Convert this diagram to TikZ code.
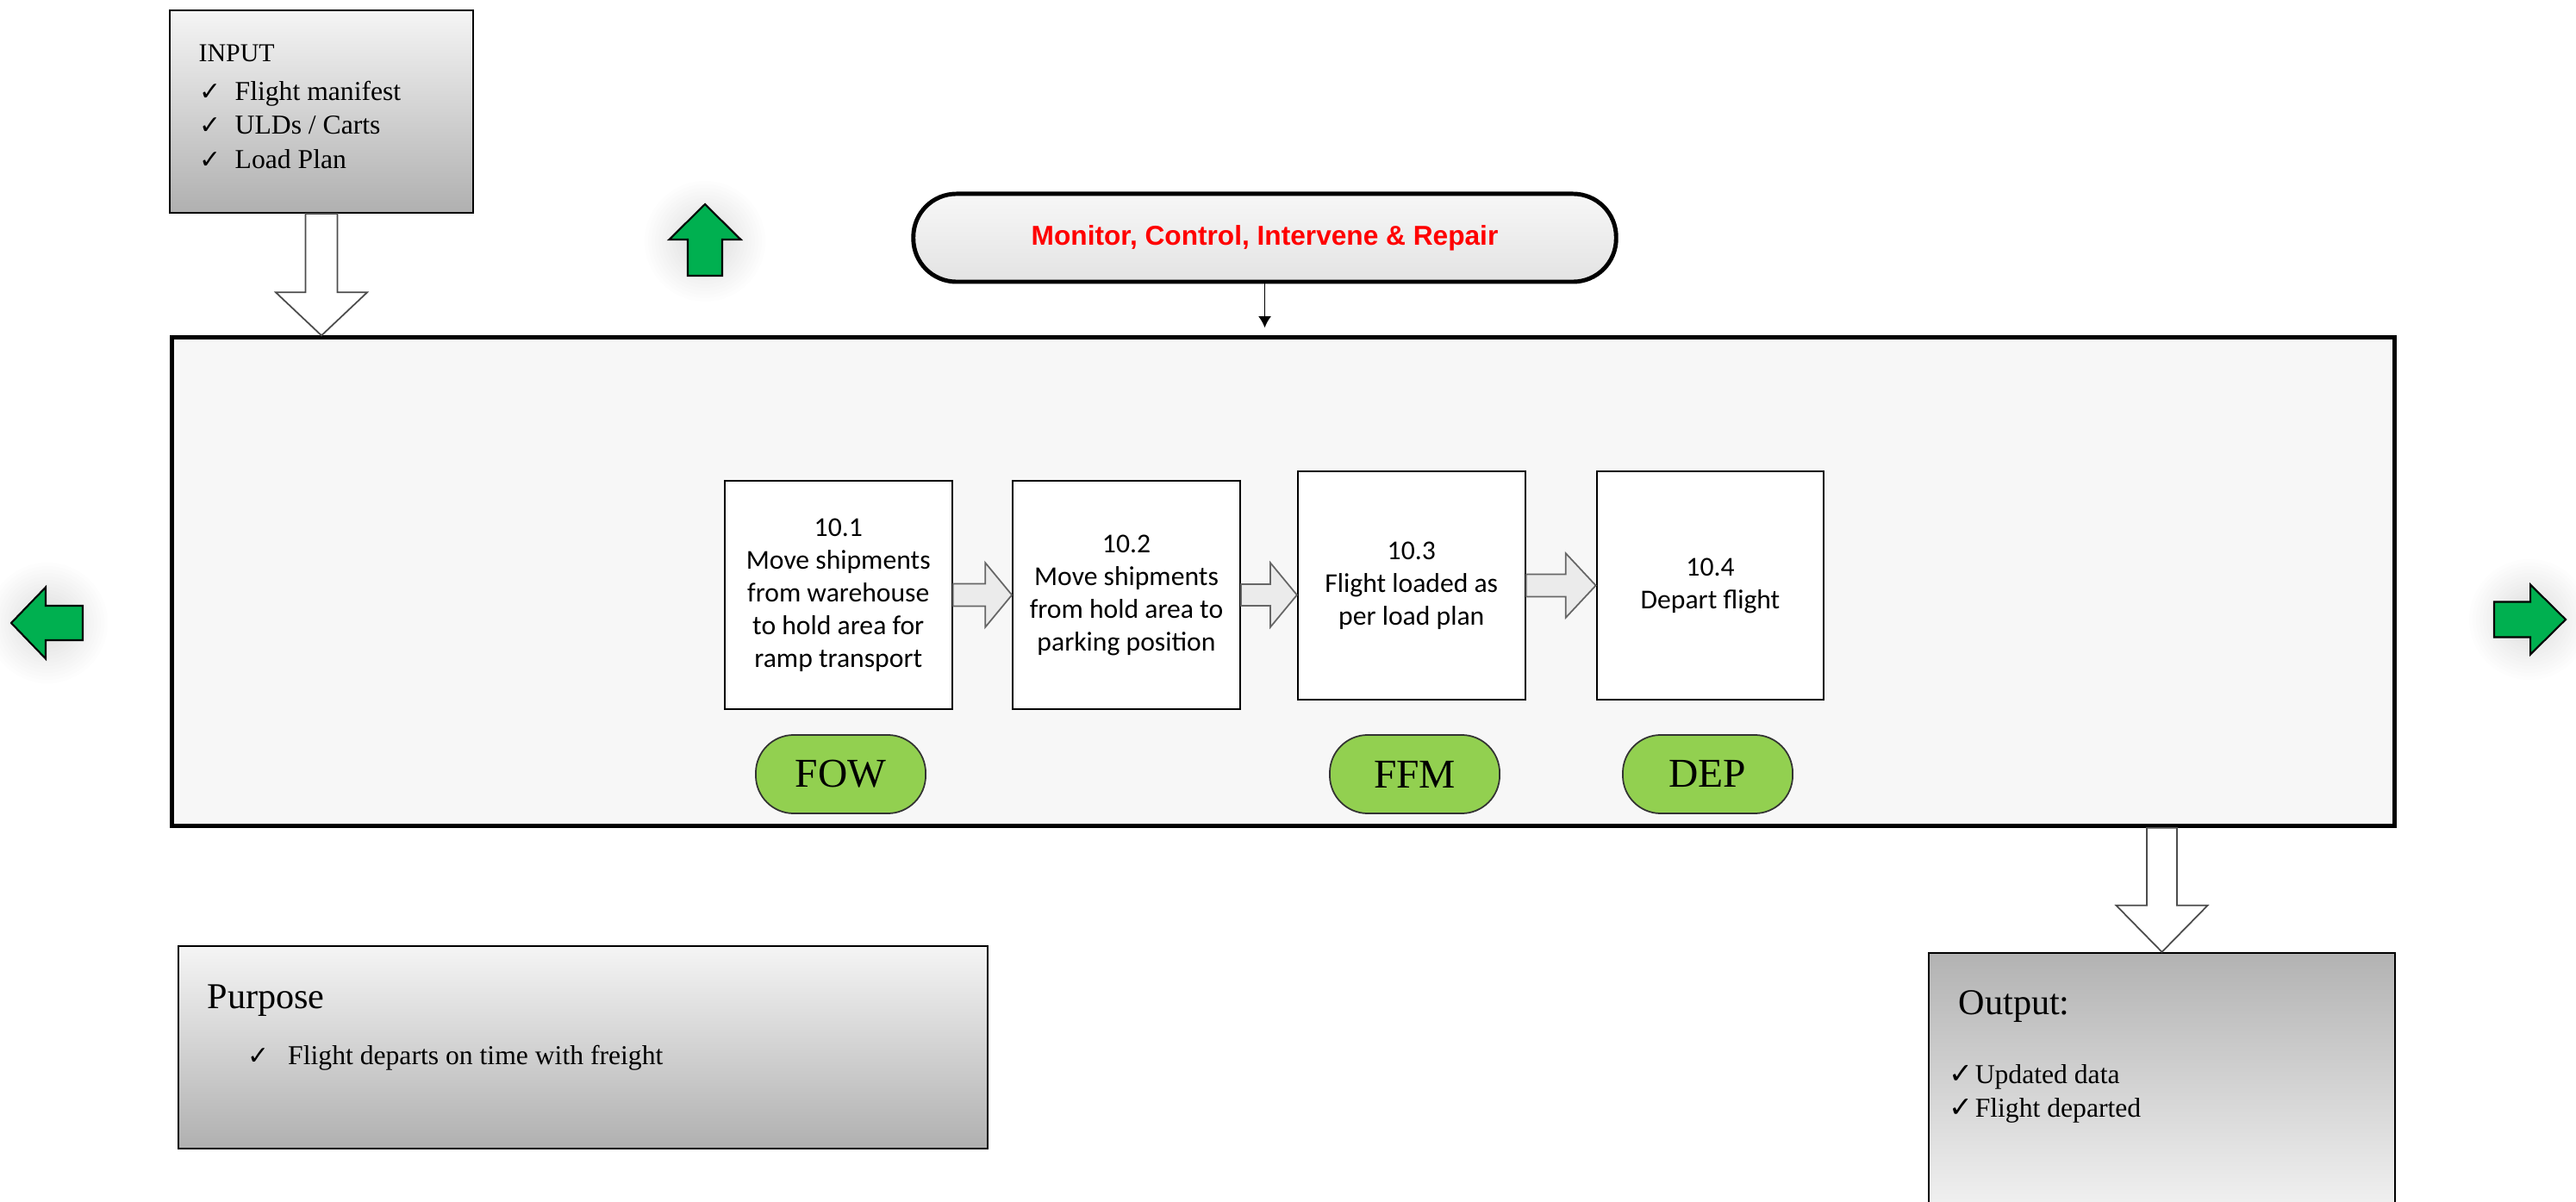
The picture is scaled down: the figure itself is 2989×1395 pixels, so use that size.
\documentclass[tikz,border=0pt]{standalone}
\usepackage{fontspec}
\setmainfont{Liberation Serif}
\newfontfamily\arialfont{Liberation Sans}
\newfontfamily\calfont{Carlito}
\newfontfamily\symfont{DejaVu Sans}
\usetikzlibrary{calc,arrows.meta}

\definecolor{arrowgreen}{HTML}{00B050}
\definecolor{badgegreen}{HTML}{92D050}
\definecolor{panelfill}{HTML}{F7F7F7}
\definecolor{pilltop}{HTML}{F7F7F7}
\definecolor{pillbottom}{HTML}{E3E3E3}
\definecolor{connfill}{HTML}{EBEBEB}

% soft halo: stacked faint discs, darker towards the centre
\newcommand\glowat[1]{%
  \foreach \r in {0.26,0.30,...,0.74}{\fill[black, opacity=0.008] (#1) circle (\r cm);}}

% check mark in a box of fixed width, then the item text
\newcommand\chk[2]{\makebox[#1][l]{{\symfont\fontsize{#2}{#2}\selectfont ✓}}}

% horizontal block arrow: from, to, shaft half height, head half height, head length, style
\newcommand\hblockarrow[6]{%
  \draw[#6] ($(#1)+(0,#3)$) -- ($(#2)+(-#5,#3)$) -- ($(#2)+(-#5,#4)$) -- (#2)
    -- ($(#2)+(-#5,-#4)$) -- ($(#2)+(-#5,-#3)$) -- ($(#1)+(0,-#3)$) -- cycle;}
% downward block arrow: from, to, shaft half width, head half width, head length, style
\newcommand\vblockarrow[6]{%
  \draw[#6] ($(#1)+(-#3,0)$) -- ($(#2)+(-#3,-#5)$) -- ($(#2)+(-#4,-#5)$) -- (#2)
    -- ($(#2)+(#4,-#5)$) -- ($(#2)+(#3,-#5)$) -- ($(#1)+(#3,0)$) -- cycle;}

\tikzset{
  plainbox/.style={draw=black, line width=0.6pt, inner sep=0pt},
  gradbox/.style={plainbox, top color=black!4, bottom color=black!31},
  procbox/.style={draw=black, line width=0.6pt, fill=white, inner sep=0pt,
    minimum width=2.635cm, minimum height=2.65cm, align=center,
    font=\calfont\fontsize{9}{10.8}\selectfont},
  badge/.style={draw=black!80, line width=0.5pt, fill=badgegreen, rounded corners=0.44cm,
    minimum width=1.97cm, minimum height=0.91cm, inner sep=0pt,
    font=\fontsize{13.5}{13.5}\selectfont},
  txt/.style={inner sep=0pt, anchor=base west},
  listtxt/.style={txt, font=\fontsize{9}{10.8}\selectfont},
  headtxt/.style={txt, font=\fontsize{12}{14}\selectfont},
  flowarrow/.style={draw=black!60, line width=0.5pt, fill=connfill, line join=miter},
  hollowarrow/.style={draw=black!70, line width=0.5pt, fill=white, line join=miter},
  greenarrow/.style={draw=black, line width=0.6pt, fill=arrowgreen, line join=miter},
}

\begin{document}
\begin{tikzpicture}[x=0.01cm, y=-0.01cm]
\path[use as bounding box] (0,0) rectangle (2989,1395);
\clip (0,0) rectangle (2989,1395);
\fill[white] (0,0) rectangle (2989,1395);

% process panel
\node[draw=black, line width=1.4pt, fill=panelfill, minimum width=25.78cm,
      minimum height=5.66cm, inner sep=0pt] (main) at (1489,675) {};

% supervision pill
\node[draw=black, line width=1.4pt, top color=pilltop, bottom color=pillbottom,
      rounded corners=0.5cm, minimum width=8.15cm, minimum height=1.02cm, inner sep=0pt,
      text=red, font=\arialfont\bfseries\fontsize{9}{9}\selectfont]
      (mon) at (1467.5,276) {Monitor, Control, Intervene \& Repair};
\draw[line width=0.4pt, -{Latex[length=3.7pt,width=4.2pt]}, shorten >=2.6pt]
      (mon.south) -- (mon.south |- main.north);

% process steps
\node[procbox] (b1) at (972.75,690.5) {10.1\\Move shipments\\from warehouse\\to hold area for\\ramp transport};
\node[procbox] (b2) at (1307,690.5) {10.2\\Move shipments\\from hold area to\\parking position};
\node[procbox] (b3) at (1637.75,679.5) {10.3\\Flight loaded as\\per load plan};
\node[procbox] (b4) at (1984.5,679.5) {10.4\\Depart flight};

\coordinate (a2end) at (b3.west |- b2.east);
\hblockarrow{b1.east}{b2.west}{13}{37.5}{31}{flowarrow}
\hblockarrow{b2.east}{a2end}{12.5}{37.5}{31}{flowarrow}
\hblockarrow{b3.east}{b4.west}{13}{37.5}{35}{flowarrow}

% message badges
\node[badge] (fow) at (975.5,898.5) {FOW};
\node[badge] (ffm) at (1641.5,898.5) {FFM};
\node[badge] (dep) at (1981.5,898.5) {DEP};

% input
\node[gradbox, minimum width=3.52cm, minimum height=2.35cm] (inbox) at (373,129.5) {};
\node[txt, font=\fontsize{8.5}{8.5}\selectfont] (inhead) at (230,72) {INPUT};
\node[listtxt] (in1) at (231,117) {\chk{0.41cm}{8.5}Flight manifest};
\node[listtxt] (in2) at (231,156) {\chk{0.41cm}{8.5}ULDs / Carts};
\node[listtxt] (in3) at (231,196) {\chk{0.41cm}{8.5}Load Plan};
\coordinate (inTip) at (inbox.south |- main.north);
\vblockarrow{inbox.south}{inTip}{18.5}{53}{50}{hollowarrow}

% output
\node[plainbox, top color=black!30, bottom color=black!4, minimum width=5.41cm,
      minimum height=3.14cm] (outbox) at (2508.5,1263) {};
\coordinate (outStart) at (outbox.north |- main.south);
\vblockarrow{outStart}{outbox.north}{17.5}{53}{54}{hollowarrow}
\node[headtxt] (outhead) at (2272,1177) {Output:};
\node[listtxt] (out1) at (2261,1257) {\chk{0.30cm}{9.5}Updated data};
\node[listtxt] (out2) at (2261,1296) {\chk{0.30cm}{9.5}Flight departed};

% purpose
\node[gradbox, minimum width=9.39cm, minimum height=2.35cm] (purp) at (676.5,1215.5) {};
\node[headtxt] (purphead) at (240,1170) {Purpose};
\node[listtxt] (purp1) at (287,1235) {\chk{0.465cm}{8.5}Flight departs on time with freight};

% green direction arrows
\glowat{818,280}
\draw[greenarrow] (818,237) -- (859.5,278) -- (838,278) -- (838,320) -- (798,320)
      -- (798,278) -- (776.5,278) -- cycle;
\glowat{55,723}
\draw[greenarrow] (13,723) -- (53,681.5) -- (53,703) -- (96,703) -- (96,743)
      -- (53,743) -- (53,764.5) -- cycle;
\glowat{2935,719}
\draw[greenarrow] (2977,719) -- (2936,678.5) -- (2936,698.5) -- (2894,698.5)
      -- (2894,739.5) -- (2936,739.5) -- (2936,759.5) -- cycle;
\end{tikzpicture}
\end{document}
